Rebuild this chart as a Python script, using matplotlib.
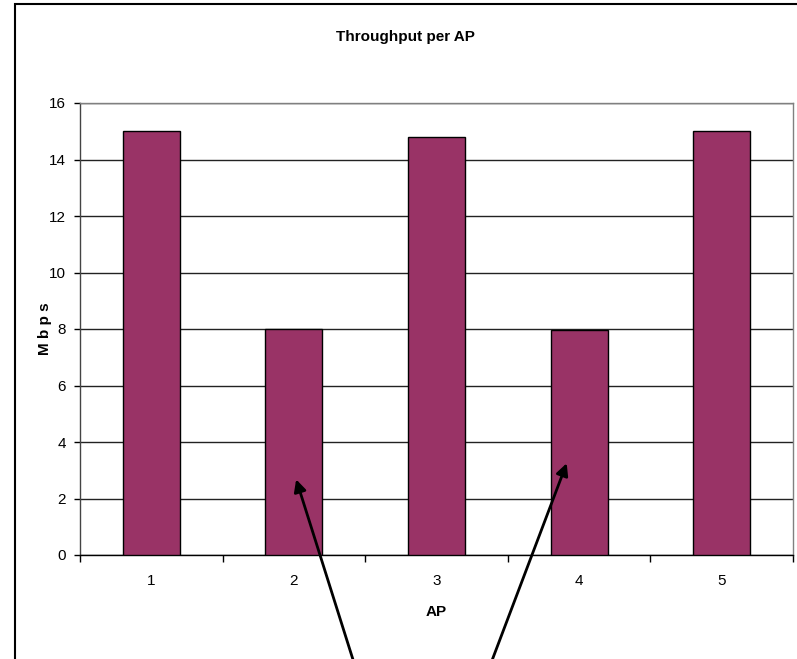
import matplotlib.pyplot as plt
from matplotlib.patches import Rectangle

# data
aps = ['1', '2', '3', '4', '5']
throughput = [15.0, 8.0, 14.8, 7.95, 15.0]
y_ticks = [0, 2, 4, 6, 8, 10, 12, 14, 16]

# where the two arrows point (AP position, Mbps)
arrow_tips = [(2.01, 2.77), (3.92, 3.34)]
arrow_tails = [(0.451, -0.032), (0.608, -0.032)]  # figure fraction, below the picture

plt.rcParams['font.family'] = ['Liberation Sans Narrow', 'Liberation Sans', 'DejaVu Sans']

fig = plt.figure(figsize=(7.97, 6.59), dpi=100)
ax = fig.add_axes([80 / 797, 104 / 659, 713 / 797, 452 / 659])

x = list(range(1, len(aps) + 1))
ax.bar(x, throughput, width=0.4, color='#993366', edgecolor='black', linewidth=1, zorder=3)

ax.set_xlim(0.5, 5.5)
ax.set_ylim(0, 16)
ax.set_yticks(y_ticks)
ax.set_xticks(x)
ax.set_xticklabels(aps)
ax.set_xticks([i + 0.5 for i in range(0, 6)], minor=True)
ax.tick_params(axis='x', which='major', length=0, pad=14, labelsize=11)
ax.tick_params(axis='x', which='minor', length=5, width=1, direction='out')
ax.tick_params(axis='y', length=4, width=1, direction='out', pad=6, labelsize=11)

ax.grid(axis='y', color='#222222', linewidth=1, zorder=0)
ax.spines['top'].set_color('#808080')
ax.spines['right'].set_color('#808080')
ax.spines['left'].set_color('#444444')
ax.spines['bottom'].set_color('black')
for s in ax.spines.values():
    s.set_linewidth(1)

ax.set_xlabel('AP', fontsize=11, fontweight='bold', labelpad=12)
ax.set_ylabel('M b p s', fontsize=11, fontweight='bold')
ax.yaxis.set_label_coords(-0.039, 0.5)
fig.text(405 / 797, 1 - 37 / 659, 'Throughput per AP', ha='center', va='center',
         fontsize=11, fontweight='bold')

# chart frame (left and top edges visible)
fig.patches.append(Rectangle((15 / 797, -0.2), 1.2, 1 - 4 / 659 + 0.2,
                             transform=fig.transFigure, fill=False,
                             edgecolor='black', linewidth=1.5))

for tip, tail in zip(arrow_tips, arrow_tails):
    ax.annotate('', xy=tip, xycoords='data', xytext=tail, textcoords='figure fraction',
                arrowprops=dict(arrowstyle='-|>', color='black', lw=2, mutation_scale=18),
                annotation_clip=False, zorder=5)

fig.savefig('out.png', dpi=100)
